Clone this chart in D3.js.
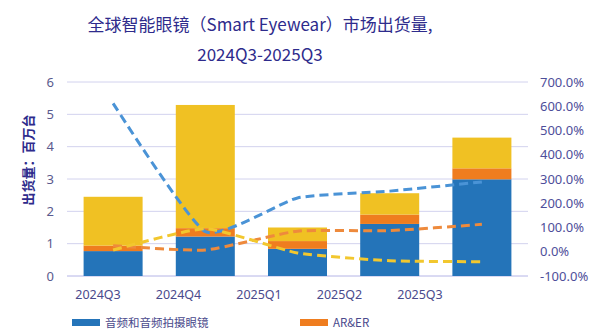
<!DOCTYPE html>
<html>
<head>
<meta charset="utf-8">
<script src="https://cdn.jsdelivr.net/npm/d3@7"></script>
<style>
  body { margin: 0; background: #fff; }
  svg { display: block; font-family: "Noto Sans CJK SC", "Noto Sans", sans-serif; }
</style>
</head>
<body>
<svg id="chart"></svg>
<script>
// data
const quarters = ['2024Q3', '2024Q4', '2025Q1', '2025Q2', '2025Q3'];
const audioGlasses = [0.77, 1.22, 0.84, 1.61, 2.99];   // 音频和音频拍摄眼镜
const arEr = [0.17, 0.26, 0.24, 0.29, 0.34];           // AR&ER
const others = [1.51, 3.81, 0.42, 0.66, 0.95];          // third (yellow) segment
// growth lines, percent (right axis)
const growthBlue = [612, 83, 222, 250, 288];
const growthOrange = [25, 7, 85, 87, 113];
const growthYellow = [7, 95, -5, -37, -41];

const leftTicks = [0, 1, 2, 3, 4, 5, 6];
const rightTicks = [-100, 0, 100, 200, 300, 400, 500, 600, 700];

const w = 600;
const h = 330;
const plotLeft = 67, plotRight = 528, plotTop = 82, plotBottom = 276;

const svg = d3.select('#chart').attr('width', w).attr('height', h);

const xScale = d3.scaleBand()
    .domain(quarters)
    .range([plotLeft, plotRight])
    .paddingInner(0.36)
    .paddingOuter(0.18);

// the category labels sit a little off from the bars in the reference
const labelScale = d3.scalePoint()
    .domain(quarters)
    .range([98, 420]);

const yScale = d3.scaleLinear().domain([0, 6]).range([plotBottom, plotTop]);
const y2Scale = d3.scaleLinear().domain([-100, 700]).range([plotBottom, plotTop]);

const colors = ['#2474b9', '#ef7d1f', '#f0c123'];
const lineColors = ['#4a93d6', '#ee8a3c', '#f2c72e'];

// title
svg.append('text')
    .attr('x', 260).attr('y', 31)
    .attr('text-anchor', 'middle')
    .attr('font-size', 17)
    .attr('fill', '#2e2b8c')
    .text('全球智能眼镜（Smart Eyewear）市场出货量,');
svg.append('text')
    .attr('x', 260).attr('y', 61)
    .attr('text-anchor', 'middle')
    .attr('font-size', 17)
    .attr('fill', '#2e2b8c')
    .text('2024Q3-2025Q3');

// gridlines
svg.append('g')
    .selectAll('line')
    .data(leftTicks)
    .enter()
    .append('line')
    .attr('x1', plotLeft).attr('x2', plotRight)
    .attr('y1', d => yScale(d)).attr('y2', d => yScale(d))
    .attr('stroke', d => d === 0 ? '#b4b4e6' : '#d2d2ee')
    .attr('stroke-width', 1);

// left axis
const yAxis = d3.axisLeft(yScale).tickValues(leftTicks).tickSize(0).tickPadding(13)
    .tickFormat(d => d);
const gy = svg.append('g')
    .attr('transform', 'translate(' + plotLeft + ',0)')
    .call(yAxis);
gy.select('.domain').remove();
gy.selectAll('text')
    .attr('font-size', 13)
    .attr('fill', '#5a5a8e')
    .attr('font-family', '"Noto Sans", sans-serif');

// right axis
const y2Axis = d3.axisRight(y2Scale).tickValues(rightTicks).tickSize(0).tickPadding(12)
    .tickFormat(d => d.toFixed(1) + '%');
const gy2 = svg.append('g')
    .attr('transform', 'translate(' + plotRight + ',0)')
    .call(y2Axis);
gy2.select('.domain').remove();
gy2.selectAll('text')
    .attr('font-size', 13)
    .attr('fill', '#4e4e9a')
    .attr('font-family', '"Noto Sans", sans-serif');

// y axis title
svg.append('text')
    .attr('transform', 'translate(33,' + 160 + ') rotate(-90)')
    .attr('text-anchor', 'middle')
    .attr('font-size', 13)
    .attr('font-weight', 'bold')
    .attr('fill', '#2e2b8c')
    .text('出货量：百万台');

// stacked bars
const rows = quarters.map((q, i) => ({ q: q, a: audioGlasses[i], b: arEr[i], c: others[i] }));
const stacked = d3.stack().keys(['a', 'b', 'c'])(rows);

svg.append('g')
    .selectAll('g')
    .data(stacked)
    .enter()
    .append('g')
    .attr('fill', (d, i) => colors[i])
    .selectAll('rect')
    .data(d => d)
    .enter()
    .append('rect')
    .attr('x', d => xScale(d.data.q))
    .attr('width', xScale.bandwidth())
    .attr('y', d => yScale(d[1]))
    .attr('height', d => yScale(d[0]) - yScale(d[1]));

// dashed growth lines
const line = d3.line()
    .x((d, i) => xScale(quarters[i]) + xScale.bandwidth() / 2)
    .y(d => y2Scale(d))
    .curve(d3.curveCardinal.tension(0.5));

[growthBlue, growthOrange, growthYellow].forEach((s, i) => {
    svg.append('path')
        .attr('d', line(s))
        .attr('fill', 'none')
        .attr('stroke', lineColors[i])
        .attr('stroke-width', 3)
        .attr('stroke-dasharray', '9,5');
});

// category labels
svg.append('g')
    .selectAll('text')
    .data(quarters)
    .enter()
    .append('text')
    .attr('x', d => labelScale(d))
    .attr('y', 299)
    .attr('text-anchor', 'middle')
    .attr('font-size', 12.5)
    .attr('fill', '#4a4a8c')
    .attr('font-family', '"Noto Sans", sans-serif')
    .text(d => d);

// legend
const legendItems = [
    { label: '音频和音频拍摄眼镜', color: colors[0], x: 72 },
    { label: 'AR&ER', color: colors[1], x: 300 }
];
const lg = svg.append('g')
    .selectAll('g')
    .data(legendItems)
    .enter()
    .append('g')
    .attr('transform', d => 'translate(' + d.x + ',319)');
lg.append('rect')
    .attr('width', 28).attr('height', 7)
    .attr('fill', d => d.color);
lg.append('text')
    .attr('x', 33).attr('y', 8)
    .attr('font-size', 11.5)
    .attr('fill', '#4a4a8c')
    .text(d => d.label);
</script>
</body>
</html>
